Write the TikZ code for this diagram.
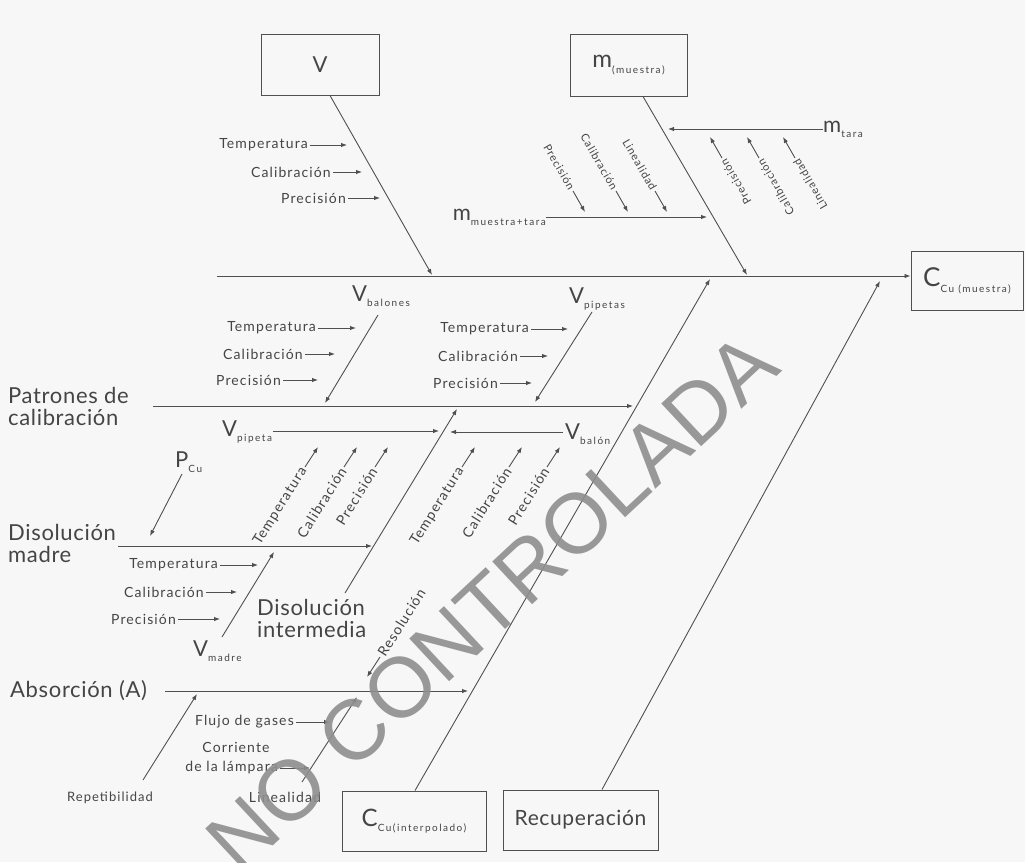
\documentclass[tikz,border=0pt]{standalone}
\usepackage{fontspec}
\setmainfont{Lato}
\newfontfamily\lblfont{Lato}[LetterSpace=8]
\newfontfamily\subfont{Lato}[LetterSpace=15]
\newfontfamily\bigfont{Lato}[LetterSpace=3]
\newfontfamily\wmfont{Liberation Sans}
\usetikzlibrary{arrows.meta}
\definecolor{ln}{HTML}{505050}
\definecolor{tx}{HTML}{454545}
\definecolor{bg}{HTML}{F7F7F7}
\definecolor{wm}{HTML}{8E8E8E}
\tikzset{
 arr/.style={draw=ln, line width=0.9pt, -{Latex[length=6pt,width=4.5pt]}},
 plain/.style={draw=ln, line width=0.9pt},
 lbl/.style={text=tx, font=\lblfont\fontsize{14}{16}\selectfont, inner sep=2pt},
 rlbl/.style={text=tx, font=\lblfont\fontsize{14}{16}\selectfont, inner sep=2pt},
 mlbl/.style={text=tx, font=\lblfont\fontsize{11}{13}\selectfont, inner sep=2pt},
 big/.style={text=tx, font=\bigfont\fontsize{22}{22}\selectfont, inner sep=0pt, align=left},
 sym/.style={text=tx, font=\fontsize{22}{24}\selectfont, inner sep=0pt},
 box/.style={draw=ln, line width=1pt, text=tx, inner sep=0pt},
 wmark/.style={text=wm, font=\wmfont\fontsize{85}{90}\selectfont, opacity=0.9},
}
\newcommand\sbs[1]{\raisebox{-0.45ex}{\subfont\fontsize{10}{11}\selectfont #1}}
% horizontal label + arrow: name, x of label end, y, x of tip, text
\newcommand\hlab[5]{%
 \node[lbl,anchor=east] (#1) at (#2,#3) {#5};
 \coordinate (#1t) at (#4,#3);
 \draw[arr] (#1.east) -- (#1t);}
% rotated label + arrow: name, Sx, Sy, Tx, Ty, rotation, text, style, anchor
\newcommand\rlab[9]{%
 \node[#8,anchor=#9,rotate=#6] (#1) at (#2,#3) {#7};
 \coordinate (#1t) at (#4,#5);
 \draw[arr] (#1.#9) -- (#1t);}
\begin{document}
\begin{tikzpicture}[x=1pt,y=-1pt]
\useasboundingbox (0,0) rectangle (1025,862);
\fill[bg] (0,0) rectangle (1025,862);

% ---------- boxes ----------
\node[box,minimum width=118pt,minimum height=61pt] (Vbox) at (320,64.5) {\fontsize{22}{24}\selectfont V};
\node[box,minimum width=117pt,minimum height=62pt] (mbox) at (628.5,65) {\fontsize{24}{26}\selectfont m\sbs{(muestra)}};
\node[box,minimum width=112pt,minimum height=59pt] (Cbox) at (967,280.5) {\fontsize{26}{28}\selectfont C\sbs{Cu (muestra)}};
\node[box,minimum width=144pt,minimum height=60pt] (Cint) at (414,821) {\fontsize{24}{26}\selectfont C\sbs{Cu(interpolado)}};
\node[box,minimum width=155pt,minimum height=60pt] (Rec) at (580.5,820) {\bigfont\fontsize{21}{23}\selectfont Recuperación};

% ---------- spine ----------
\coordinate (sp0) at (217,276);
\draw[arr] (sp0) -- (sp0 -| Cbox.west);

% ---------- V branch ----------
\coordinate (s1) at (432,275);
\draw[arr] ([xshift=10pt]Vbox.south) -- (s1);
\hlab{vT}{310}{145}{347}{Temperatura}
\hlab{vC}{333}{172}{362}{Calibración}
\hlab{vP}{348}{198}{380}{Precisión}

% ---------- m branch ----------
\coordinate (s2) at (747,275);
\draw[arr] ([xshift=14.5pt]mbox.south) -- (s2);
\node[sym,anchor=west] (mtara) at (823,129) {m\sbs{tara}};
\coordinate (mtt) at (668,129);
\draw[arr] (mtara.west) -- (mtt);
\node[sym,anchor=east] (mmt) at (546,217) {m\sbs{muestra+tara}};
\coordinate (mmtt) at (707,217);
\draw[arr] (mmt.east) -- (mmtt);
\rlab{ta1}{722}{158}{710}{137}{120}{Precisión}{mlbl}{east}
\rlab{ta2}{759}{158}{747}{137}{120}{Calibración}{mlbl}{east}
\rlab{ta3}{795}{158}{783}{137}{120}{Linealidad}{mlbl}{east}
\rlab{mt1}{573}{191}{585}{212}{-60}{Precisión}{mlbl}{east}
\rlab{mt2}{616}{191}{628}{212}{-60}{Calibración}{mlbl}{east}
\rlab{mt3}{655}{191}{667}{212}{-60}{Linealidad}{mlbl}{east}

% ---------- V balones / V pipetas ----------
\node[sym,anchor=west] (Vbal) at (352,296) {V\sbs{balones}};
\coordinate (vb0) at (378,315); \coordinate (vb1) at (325,403);
\draw[arr] (vb0) -- (vb1);
\hlab{bT}{318}{328}{356}{Temperatura}
\hlab{bC}{305}{354}{335}{Calibración}
\hlab{bP}{283}{380}{318}{Precisión}

\node[sym,anchor=west] (Vpips) at (569,299) {V\sbs{pipetas}};
\coordinate (vq0) at (592,312); \coordinate (vq1) at (535,402);
\draw[arr] (vq0) -- (vq1);
\hlab{qT}{531}{329}{568}{Temperatura}
\hlab{qC}{520}{356}{548}{Calibración}
\hlab{qP}{500}{383}{532}{Precisión}

% ---------- Patrones de calibracion ----------
\node[big,anchor=west] (pat) at (8,406) {Patrones de\\calibración};
\coordinate (p0) at (153,406); \coordinate (p1) at (633,406);
\draw[arr] (p0) -- (p1);

% main diagonal from C interpolado
\coordinate (d1t) at (710,279);
\draw[arr] ([xshift=1pt]Cint.north) -- (d1t);
% recuperacion diagonal
\coordinate (d3t) at (880,281);
\draw[arr] ([xshift=21.5pt]Rec.north) -- (d3t);

% ---------- Disolucion intermedia branch ----------
\coordinate (d2b) at (345,593); \coordinate (d2t) at (457,409);
\draw[arr] (d2b) -- (d2t);
\node[sym,anchor=west] (Vpip) at (222,432) {V\sbs{pipeta}};
\coordinate (vp0) at (273,431); \coordinate (vp1) at (439,431);
\draw[arr] (vp0) -- (vp1);
\node[sym,anchor=west] (Vbln) at (565,434) {V\sbs{balón}};
\coordinate (vn0) at (563,432); \coordinate (vn1) at (450,432);
\draw[arr] (vn0) -- (vn1);
\rlab{pT}{305}{467}{318}{447}{58}{Temperatura}{rlbl}{east}
\rlab{pC}{344}{467}{357}{447}{58}{Calibración}{rlbl}{east}
\rlab{pP}{375}{467}{388}{447}{58}{Precisión}{rlbl}{east}
\rlab{nT}{462}{467}{475}{447}{58}{Temperatura}{rlbl}{east}
\rlab{nC}{509}{467}{522}{447}{58}{Calibración}{rlbl}{east}
\rlab{nP}{547}{467}{560}{447}{58}{Precisión}{rlbl}{east}
\node[big,anchor=west] (dint) at (257,618) {Disolución\\intermedia};

% ---------- Disolucion madre ----------
\node[big,anchor=west] (dmad) at (8,543) {Disolución\\madre};
\coordinate (dm0) at (118,546); \coordinate (dm1) at (372,546);
\draw[arr] (dm0) -- (dm1);
\node[sym,anchor=west] (PCu) at (175,462) {P\sbs{Cu}};
\coordinate (pc0) at (182,474); \coordinate (pc1) at (150,536);
\draw[arr] (pc0) -- (pc1);
\coordinate (d4b) at (222,637); \coordinate (d4t) at (274,552);
\draw[arr] (d4b) -- (d4t);
\hlab{mT}{220}{565}{258}{Temperatura}
\hlab{mC}{206}{592}{237}{Calibración}
\hlab{mP}{178}{619}{220}{Precisión}
\node[sym,anchor=west] (Vmad) at (193,651) {V\sbs{madre}};

% ---------- Absorcion ----------
\node[big,anchor=west] (abs) at (10,691) {Absorción (A)};
\coordinate (ab0) at (165,691); \coordinate (ab1) at (468,691);
\draw[arr] (ab0) -- (ab1);
\coordinate (rp0) at (143,780); \coordinate (rp1) at (197,694);
\draw[arr] (rp0) -- (rp1);
\node[lbl,font=\lblfont\fontsize{13}{15}\selectfont] (rep) at (110,798) {Repetibilidad};
\coordinate (d5b) at (302,782); \coordinate (d5t) at (357,697);
\draw[arr] (d5b) -- (d5t);
\hlab{fg}{296}{722}{330}{Flujo de gases}
\node[lbl] (cor) at (236,747) {Corriente};
\hlab{lam}{280}{768}{310}{de la lámpara}
\node[lbl] (lin) at (285,797) {Linealidad};
\rlab{res}{380}{657}{367}{677}{58}{Resolución}{rlbl}{west}

% ---------- watermark ----------
\node[wmark,rotate=43] (wm) at (492,602) {NO CONTROLADA};
\end{tikzpicture}
\end{document}
